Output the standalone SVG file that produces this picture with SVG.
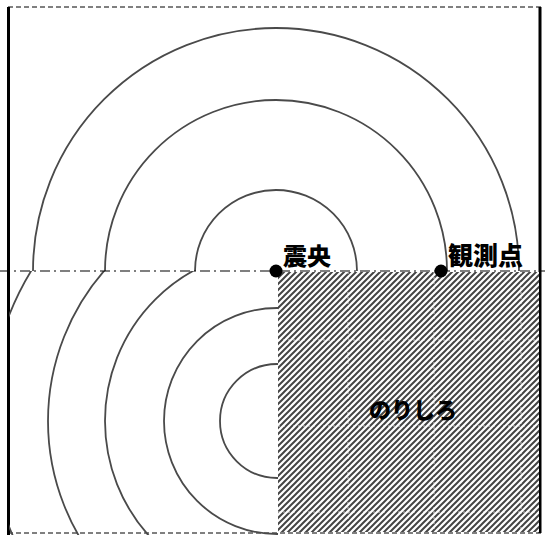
<svg xmlns="http://www.w3.org/2000/svg" width="545" height="535" viewBox="0 0 545 535">
<style>
.wave{fill:none;stroke:#4a4a4a;stroke-width:1.8}
.lbl{font-family:"Noto Sans CJK JP","Noto Sans",sans-serif;font-weight:900;fill:#000}
</style>
<defs>
<pattern id="hatch" patternUnits="userSpaceOnUse" x="278" y="272" width="6" height="6">
<rect width="6" height="6" fill="#fff"/>
<path d="M-1,7 L7,-1 M-4,4 L4,-4 M2,10 L10,2" stroke="#444" stroke-width="2"/>
</pattern>
<clipPath id="top"><rect x="0" y="0" width="545" height="271"/></clipPath>
<clipPath id="bot"><rect x="9" y="271" width="269" height="264"/></clipPath>
</defs>
<rect width="545" height="535" fill="#fff"/>
<g id="page">
<line x1="8" y1="7" x2="541" y2="7" stroke="#000" stroke-width="1" stroke-dasharray="5 3"/>
<line x1="8" y1="533" x2="541" y2="533" stroke="#000" stroke-width="1" stroke-dasharray="5 3"/>
<line x1="8.5" y1="7" x2="8.5" y2="535" stroke="#000" stroke-width="3"/>
<line x1="540" y1="7" x2="540" y2="533" stroke="#000" stroke-width="3"/>
</g>
<g id="upper-waves" clip-path="url(#top)">
<circle class="wave" cx="276" cy="271" r="81"/>
<circle class="wave" cx="276" cy="271" r="171"/>
<circle class="wave" cx="276" cy="271" r="243"/>
</g>
<g id="lower-waves" clip-path="url(#bot)">
<circle class="wave" cx="277" cy="421" r="57"/>
<circle class="wave" cx="277" cy="421" r="113"/>
<circle class="wave" cx="277" cy="421" r="172"/>
<circle class="wave" cx="277" cy="421" r="229"/>
<circle class="wave" cx="277" cy="421" r="288"/>
</g>
<g id="norishiro">
<rect x="278" y="272" width="261" height="260" fill="url(#hatch)"/>
<g stroke="#fff" stroke-width="1" stroke-dasharray="2 3" opacity="0.7">
<line x1="348" y1="272" x2="348" y2="532"/>
<line x1="434" y1="272" x2="434" y2="532"/>
<line x1="521" y1="272" x2="521" y2="532"/>
<line x1="278" y1="340" x2="539" y2="340"/>
<line x1="278" y1="426" x2="539" y2="426"/>
<line x1="278" y1="512" x2="539" y2="512"/>
</g>
<text class="lbl" x="413" y="418" font-size="22" text-anchor="middle">のりしろ</text>
</g>
<g id="fold-line">
<line x1="0" y1="271" x2="545" y2="271" stroke="#000" stroke-width="1.2" stroke-dasharray="10 4 2 4"/>
</g>
<g id="epicenter">
<circle cx="276" cy="271" r="6.5" fill="#000"/>
<text class="lbl" x="283" y="265" font-size="24">震央</text>
</g>
<g id="station">
<circle cx="441" cy="271" r="6.5" fill="#000"/>
<text class="lbl" x="448" y="265" font-size="25">観測点</text>
</g>
</svg>
